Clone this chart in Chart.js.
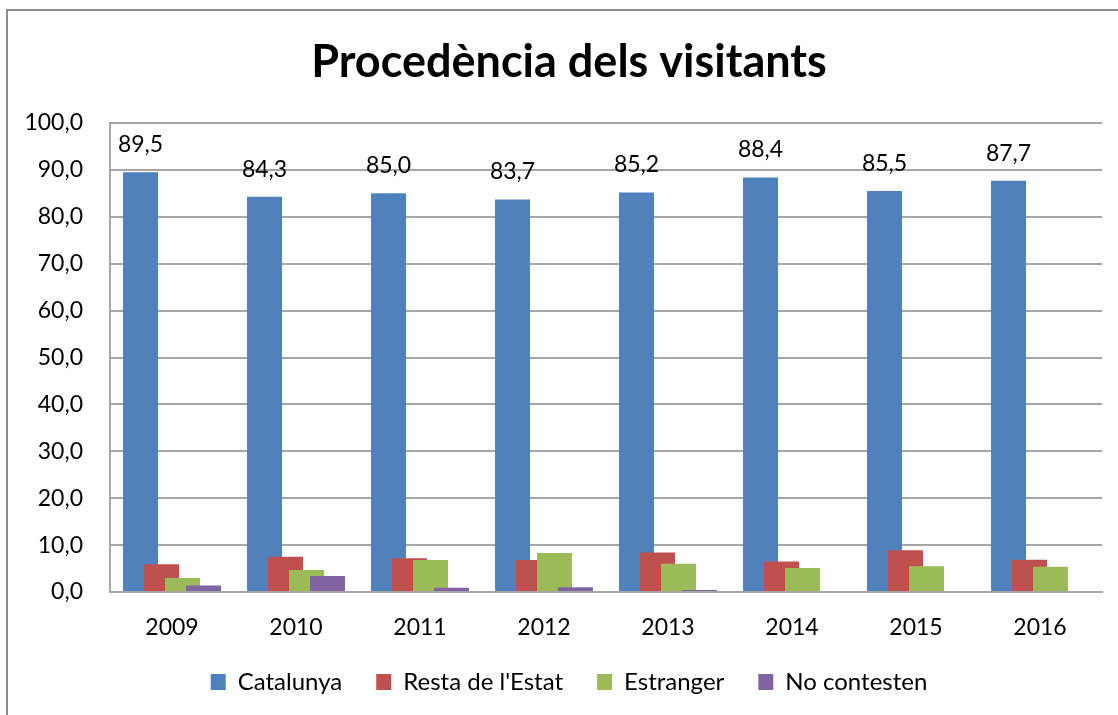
<!DOCTYPE html>
<html>
<head>
<meta charset="utf-8">
<script src="https://cdn.jsdelivr.net/npm/chart.js@4"></script>
<style>
  html, body { margin: 0; padding: 0; background: #fff; }
  #wrap { position: absolute; left: 0; top: 0; width: 1118px; height: 715px; }
</style>
</head>
<body>
<div id="wrap"><canvas id="c" width="1118" height="715"></canvas></div>
<script>
const titleText = "Procedència dels visitants";
const years = ["2009", "2010", "2011", "2012", "2013", "2014", "2015", "2016"];
const seriesNames = ["Catalunya", "Resta de l'Estat", "Estranger", "No contesten"];
const catalunya = [89.5, 84.3, 85.0, 83.7, 85.2, 88.4, 85.5, 87.7];
const restaEstat = [5.9, 7.5, 7.2, 6.8, 8.4, 6.5, 8.9, 6.9];
const estranger = [3.0, 4.7, 6.8, 8.3, 6.0, 5.1, 5.5, 5.4];
const noContesten = [1.4, 3.4, 0.9, 1.0, 0.4, 0, 0, 0];
const colors = ["#4F81BD", "#C0504D", "#9BBB59", "#8064A2"];

const FONT = "Lato, 'Open Sans', sans-serif";
const fmt = v => v.toFixed(1).replace('.', ',');

const borderPlugin = {
  id: 'outerBorder',
  beforeDraw(chart) {
    const ctx = chart.ctx;
    ctx.save();
    ctx.fillStyle = '#fff';
    ctx.fillRect(0, 0, chart.width, chart.height);
    ctx.strokeStyle = '#8c8c8c';
    ctx.lineWidth = 2;
    ctx.beginPath();
    ctx.moveTo(7, chart.height + 2);
    ctx.lineTo(7, 10);
    ctx.lineTo(chart.width + 2, 10);
    ctx.stroke();
    ctx.restore();
  }
};

// Draw series in index order so later series overlap earlier ones (like the original),
// then the value labels of the first series.
const drawPlugin = {
  id: 'orderedDraw',
  beforeDatasetsDraw(chart) {
    for (let i = 0; i < chart.data.datasets.length; i++) {
      const meta = chart.getDatasetMeta(i);
      if (meta.visible !== false && !meta.hidden) meta.controller.draw();
    }
    const ctx = chart.ctx;
    const meta = chart.getDatasetMeta(0);
    ctx.save();
    ctx.font = "23px " + FONT;
    ctx.fillStyle = '#000';
    ctx.textAlign = 'center';
    ctx.textBaseline = 'alphabetic';
    meta.data.forEach((bar, i) => {
      ctx.fillText(fmt(catalunya[i]), bar.x, bar.y - 20);
    });
    ctx.restore();
    return false;
  }
};

const datasets = [catalunya, restaEstat, estranger, noContesten].map((d, i) => ({
  label: seriesNames[i],
  data: d,
  backgroundColor: colors[i],
  borderWidth: 0,
  categoryPercentage: 0.677,
  barPercentage: 1.667
}));

new Chart(document.getElementById('c'), {
  type: 'bar',
  data: { labels: years, datasets },
  options: {
    responsive: false,
    animation: false,
    layout: { padding: { left: 20, right: 0, top: 0, bottom: 11 } },
    plugins: {
      title: {
        display: true,
        text: titleText,
        color: '#000',
        font: { family: FONT, size: 45, weight: 'bold' },
        padding: { top: 35, bottom: 34 }
      },
      legend: {
        position: 'bottom',
        labels: {
          color: '#000',
          font: { family: FONT, size: 24 },
          boxWidth: 15,
          boxHeight: 16,
          padding: 34
        }
      },
      tooltip: { enabled: false }
    },
    scales: {
      x: {
        grid: { display: false, drawTicks: false },
        border: { color: '#a6a6a6', width: 2 },
        ticks: { color: '#000', font: { family: FONT, size: 23 }, padding: 22 },
        afterFit(s) { s.height = 44; }
      },
      y: {
        min: 0, max: 100,
        ticks: { stepSize: 10, color: '#000', font: { family: FONT, size: 23 }, padding: 27,
                 callback: v => fmt(v) },
        grid: { color: '#a6a6a6', lineWidth: 2, drawTicks: false },
        border: { color: '#a6a6a6', width: 2 },
        afterFit(s) { s.width = 90; }
      },
      yRightSpace: {
        position: 'right',
        display: true,
        ticks: { display: false },
        grid: { display: false, drawTicks: false },
        border: { display: false },
        afterFit(s) { s.width = 16; }
      }
    }
  },
  plugins: [borderPlugin, drawPlugin]
});
</script>
</body>
</html>
